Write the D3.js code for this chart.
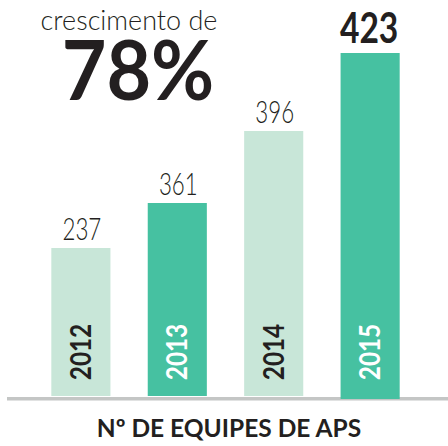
<!DOCTYPE html>
<html>
<head>
<meta charset="utf-8">
<script src="https://cdn.jsdelivr.net/npm/d3@7"></script>
<style>
  html, body { margin: 0; padding: 0; background: #fff; }
  svg { display: block; }
</style>
</head>
<body>
<div id="chart"></div>
<script>
// data
const years = ["2012", "2013", "2014", "2015"];
const teams = [237, 361, 396, 423];
const highlight = ["2015"];
const headline = ["crescimento de", "78%"];
const footer = "Nº DE EQUIPES DE APS";

const width = 448;
const height = 446;
const baseY = 396;

const light = "#c8e6d8";
const dark = "#46c1a1";
const ink = "#231f20";

const svg = d3.select("#chart")
  .append("svg")
  .attr("width", width)
  .attr("height", height);

// x: one band per year
const x = d3.scaleBand()
  .domain(years)
  .range([33, 418])
  .paddingInner(0.387)
  .paddingOuter(0.19);

// the original artwork is not proportional, so the scale is stepped
const y = d3.scaleLinear()
  .domain([0, 237, 361, 396, 423])
  .range([baseY, 248, 203, 131, 53]);

const rows = years.map((yr, i) => ({ year: yr, value: teams[i], hi: i % 2 === 1 }));
const isHi = d => highlight.includes(d.year);

// baseline
svg.append("rect")
  .attr("x", 7)
  .attr("y", 397)
  .attr("width", width - 7)
  .attr("height", 3.5)
  .attr("fill", "#c4c6c5");

// bars
svg.selectAll(".bar")
  .data(rows)
  .enter()
  .append("rect")
  .attr("class", "bar")
  .attr("x", d => x(d.year))
  .attr("y", d => y(d.value))
  .attr("width", x.bandwidth())
  .attr("height", d => y(0) - y(d.value) + (isHi(d) ? 3 : 0))
  .attr("fill", d => d.hi ? dark : light);

// year labels inside bars (squeezed along the text direction)
svg.selectAll(".year")
  .data(rows)
  .enter()
  .append("text")
  .attr("class", "year")
  .attr("transform", d => `translate(${x(d.year) + x.bandwidth() / 2 + 10},352) rotate(-90) scale(0.84,1)`)
  .attr("text-anchor", "middle")
  .attr("fill", d => d.hi ? "#fff" : ink)
  .style("font-family", "Lato, sans-serif")
  .style("font-weight", "bold")
  .style("font-size", "29px")
  .text(d => d.year);

// value labels
svg.selectAll(".value")
  .data(rows)
  .enter()
  .append("text")
  .attr("class", "value")
  .attr("transform", d => {
    const cx = x(d.year) + x.bandwidth() / 2 + (isHi(d) ? -1 : 1);
    const cy = y(d.value) - (isHi(d) ? 10 : 8);
    return `translate(${cx},${cy}) scale(${isHi(d) ? 0.8 : 0.72},1)`;
  })
  .attr("text-anchor", "middle")
  .attr("fill", ink)
  .style("font-family", "Lato, sans-serif")
  .style("font-weight", d => isHi(d) ? "bold" : 300)
  .style("font-size", d => isHi(d) ? "42px" : "31px")
  .text(d => d.value);

// headline
svg.append("text")
  .attr("x", 129)
  .attr("y", 30)
  .attr("text-anchor", "middle")
  .attr("fill", ink)
  .style("font-family", "Lato, sans-serif")
  .style("font-weight", 300)
  .style("font-size", "27px")
  .text(headline[0]);

svg.append("text")
  .attr("transform", "translate(138,100) scale(0.94,1)")
  .attr("text-anchor", "middle")
  .attr("fill", ink)
  .style("font-family", "Lato, sans-serif")
  .style("font-weight", "bold")
  .style("font-size", "82px")
  .text(headline[1]);

// footer
svg.append("text")
  .attr("x", 229)
  .attr("y", 437)
  .attr("text-anchor", "middle")
  .attr("fill", ink)
  .style("font-family", "Lato, sans-serif")
  .style("font-weight", "bold")
  .style("font-size", "24.5px")
  .text(footer);
</script>
</body>
</html>
